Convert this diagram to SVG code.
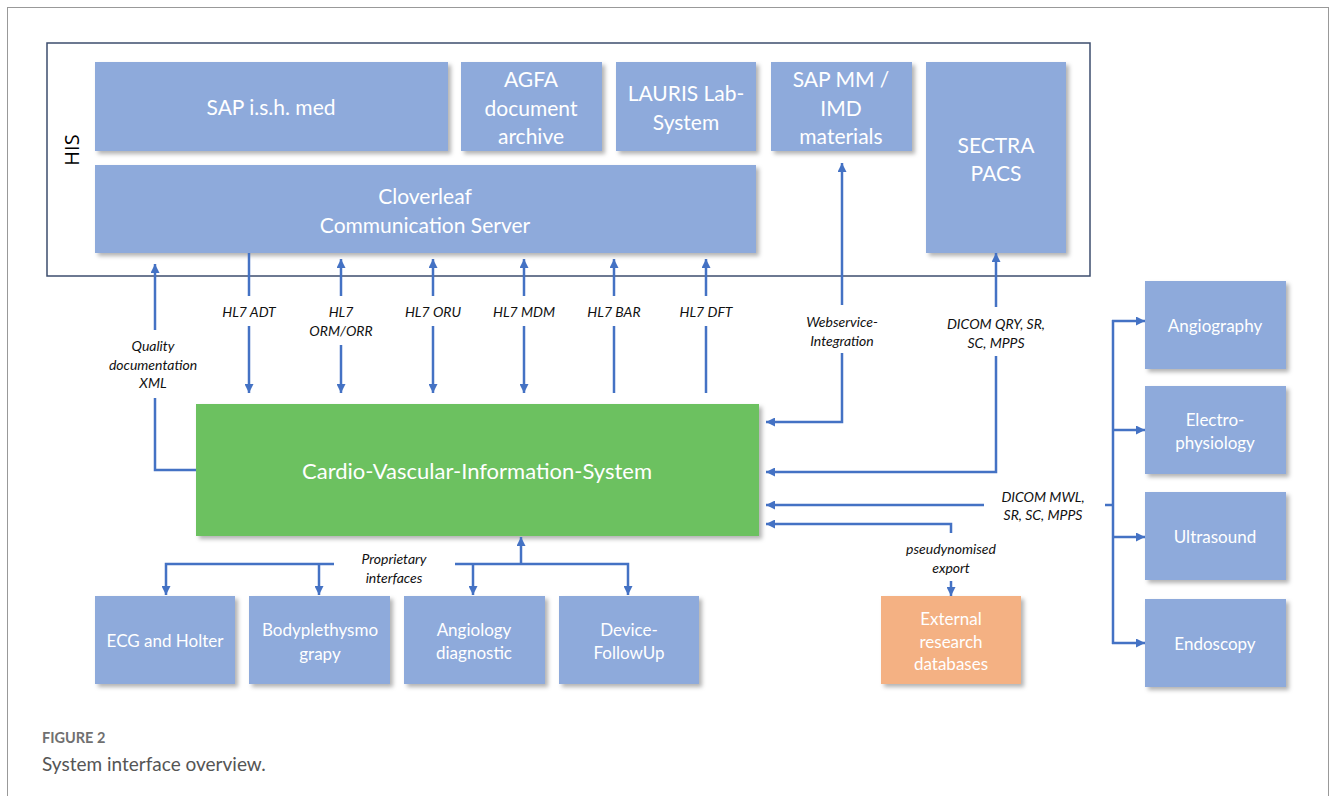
<svg xmlns="http://www.w3.org/2000/svg" width="1331" height="796" viewBox="0 0 1331 796">
<style>
.box{fill:#8eaadb;filter:url(#sh)}
.bt{font-family:Lato,"Liberation Sans",sans-serif;fill:#fff;text-anchor:middle;dominant-baseline:central}
.lb{font-family:Lato,"Liberation Sans",sans-serif;font-style:italic;font-size:14px;fill:#111;text-anchor:middle;dominant-baseline:central}
.c{fill:none;stroke:#4472c4;stroke-width:2.5}
.a{marker-end:url(#ah)}
</style>
<defs>
<filter id="sh" x="-10%" y="-10%" width="130%" height="130%"><feDropShadow dx="3" dy="3" stdDeviation="2" flood-color="#000" flood-opacity="0.3"/></filter>
<marker id="ah" viewBox="0 0 10 10" refX="10" refY="5" markerWidth="9" markerHeight="9" markerUnits="userSpaceOnUse" orient="auto"><path d="M0,0 L10,5 L0,10 z" fill="#4472c4"/></marker>
</defs>
<rect x="0" y="0" width="1331" height="796" fill="#fff"/>
<rect x="7.5" y="7.5" width="1321" height="800" fill="none" stroke="#999" stroke-width="1"/>
<g id="his">
<rect x="47" y="43" width="1043" height="233" fill="#fff" stroke="#3c4d6e" stroke-width="1.5"/>
<text x="71" y="150" transform="rotate(-90 71 150)" font-family="'Open Sans','Liberation Sans',sans-serif" font-size="20" fill="#000" text-anchor="middle" dominant-baseline="central">HIS</text>
</g>
<g id="sap"><rect class="box" x="95" y="62" width="353" height="89"/><text class="bt" x="271" y="106" font-size="21">SAP i.s.h. med</text></g>
<g id="agfa"><rect class="box" x="461" y="62" width="141" height="89"/><text class="bt" font-size="21"><tspan x="531" y="78">AGFA</tspan><tspan x="531" y="107">document</tspan><tspan x="531" y="135">archive</tspan></text></g>
<g id="lauris"><rect class="box" x="616" y="62" width="140" height="89"/><text class="bt" font-size="21"><tspan x="686" y="92">LAURIS Lab-</tspan><tspan x="686" y="121">System</tspan></text></g>
<g id="sapmm"><rect class="box" x="771" y="62" width="141" height="89"/><text class="bt" font-size="21"><tspan x="841" y="78">SAP MM /</tspan><tspan x="841" y="107">IMD</tspan><tspan x="841" y="135">materials</tspan></text></g>
<g id="sectra"><rect class="box" x="926" y="62" width="140" height="191"/><text class="bt" font-size="21"><tspan x="996" y="144">SECTRA</tspan><tspan x="996" y="172">PACS</tspan></text></g>
<g id="cloverleaf"><rect class="box" x="95" y="165" width="661" height="88"/><text class="bt" font-size="21"><tspan x="425" y="195">Cloverleaf</tspan><tspan x="425" y="224">Communication Server</tspan></text></g>
<g id="cvis"><rect x="196" y="404" width="563" height="132" fill="#6cc160" filter="url(#sh)"/><text class="bt" x="477" y="470" font-size="22">Cardio-Vascular-Information-System</text></g>
<g id="ecg"><rect class="box" x="95" y="596" width="140" height="88"/><text class="bt" x="165" y="640" font-size="17">ECG and Holter</text></g>
<g id="body"><rect class="box" x="249" y="596" width="141" height="88"/><text class="bt" font-size="17"><tspan x="320" y="629">Bodyplethysmo</tspan><tspan x="320" y="653">grapy</tspan></text></g>
<g id="angiology"><rect class="box" x="404" y="596" width="141" height="88"/><text class="bt" font-size="17"><tspan x="474" y="629">Angiology</tspan><tspan x="474" y="652">diagnostic</tspan></text></g>
<g id="device"><rect class="box" x="559" y="596" width="140" height="88"/><text class="bt" font-size="17"><tspan x="629" y="629">Device-</tspan><tspan x="629" y="652">FollowUp</tspan></text></g>
<g id="external"><rect x="881" y="596" width="140" height="88" fill="#f4b183" filter="url(#sh)"/><text class="bt" font-size="17"><tspan x="951" y="618">External</tspan><tspan x="951" y="641">research</tspan><tspan x="951" y="663">databases</tspan></text></g>
<g id="angiography"><rect class="box" x="1145" y="281" width="141" height="88"/><text class="bt" x="1215" y="325" font-size="17">Angiography</text></g>
<g id="electro"><rect class="box" x="1145" y="386" width="141" height="88"/><text class="bt" font-size="17"><tspan x="1215" y="419">Electro-</tspan><tspan x="1215" y="442">physiology</tspan></text></g>
<g id="ultrasound"><rect class="box" x="1145" y="492" width="141" height="88"/><text class="bt" x="1215" y="536" font-size="17">Ultrasound</text></g>
<g id="endoscopy"><rect class="box" x="1145" y="599" width="141" height="88"/><text class="bt" x="1215" y="643" font-size="17">Endoscopy</text></g>
<g id="connectors">
<path class="c a" d="M155,330 L155,264"/>
<path class="c" d="M155,398 L155,470 L196,470"/>
<path class="c" d="M249,253 L249,296"/>
<path class="c a" d="M249,326 L249,393"/>
<path class="c a" d="M341,296 L341,259"/>
<path class="c a" d="M341,345 L341,393"/>
<path class="c a" d="M433,296 L433,259"/>
<path class="c a" d="M433,326 L433,393"/>
<path class="c a" d="M524,296 L524,259"/>
<path class="c a" d="M524,326 L524,393"/>
<path class="c a" d="M614,296 L614,259"/>
<path class="c" d="M614,326 L614,393"/>
<path class="c a" d="M706,296 L706,259"/>
<path class="c" d="M706,326 L706,393"/>
<path class="c a" d="M842,305 L842,163"/>
<path class="c a" d="M842,353 L842,422 L766,422"/>
<path class="c a" d="M996,307 L996,253"/>
<path class="c a" d="M996,356 L996,472 L766,472"/>
<path class="c a" d="M984,505 L766,505"/>
<path class="c" d="M1105,505 L1113,505"/>
<path class="c" d="M1113,320 L1113,644"/>
<path class="c a" d="M1112,321 L1145,321"/>
<path class="c a" d="M1113,430 L1145,430"/>
<path class="c a" d="M1113,537 L1145,537"/>
<path class="c a" d="M1112,643 L1145,643"/>
<path class="c a" d="M951,533 L951,524 L766,524"/>
<path class="c a" d="M951,581 L951,596"/>
<path class="c a" d="M521,564 L521,537"/>
<path class="c a" d="M334,564 L166,564 L166,595"/>
<path class="c a" d="M319,564 L319,595"/>
<path class="c a" d="M455,564 L628,564 L628,595"/>
<path class="c a" d="M473,564 L473,595"/>
</g>
<g id="labels">
<text class="lb"><tspan x="153" y="345">Quality</tspan><tspan x="153" y="364">documentation</tspan><tspan x="153" y="382">XML</tspan></text>
<text class="lb" x="249" y="311">HL7 ADT</text>
<text class="lb"><tspan x="341" y="311">HL7</tspan><tspan x="341" y="330">ORM/ORR</tspan></text>
<text class="lb" x="433" y="311">HL7 ORU</text>
<text class="lb" x="524" y="311">HL7 MDM</text>
<text class="lb" x="614" y="311">HL7 BAR</text>
<text class="lb" x="706" y="311">HL7 DFT</text>
<text class="lb"><tspan x="842" y="321">Webservice-</tspan><tspan x="842" y="340">Integration</tspan></text>
<text class="lb"><tspan x="996" y="323">DICOM QRY, SR,</tspan><tspan x="996" y="342">SC, MPPS</tspan></text>
<text class="lb"><tspan x="1043" y="496">DICOM MWL,</tspan><tspan x="1043" y="514">SR, SC, MPPS</tspan></text>
<text class="lb"><tspan x="951" y="548">pseudynomised</tspan><tspan x="951" y="567">export</tspan></text>
<text class="lb"><tspan x="394" y="558">Proprietary</tspan><tspan x="394" y="577">interfaces</tspan></text>
</g>
<g id="caption">
<text x="42" y="743" font-family="Lato,'Liberation Sans',sans-serif" font-size="14.5" font-weight="bold" fill="#707070">FIGURE 2</text>
<text x="42" y="771" font-family="Lato,'Liberation Sans',sans-serif" font-size="19" fill="#555">System interface overview.</text>
</g>
</svg>
